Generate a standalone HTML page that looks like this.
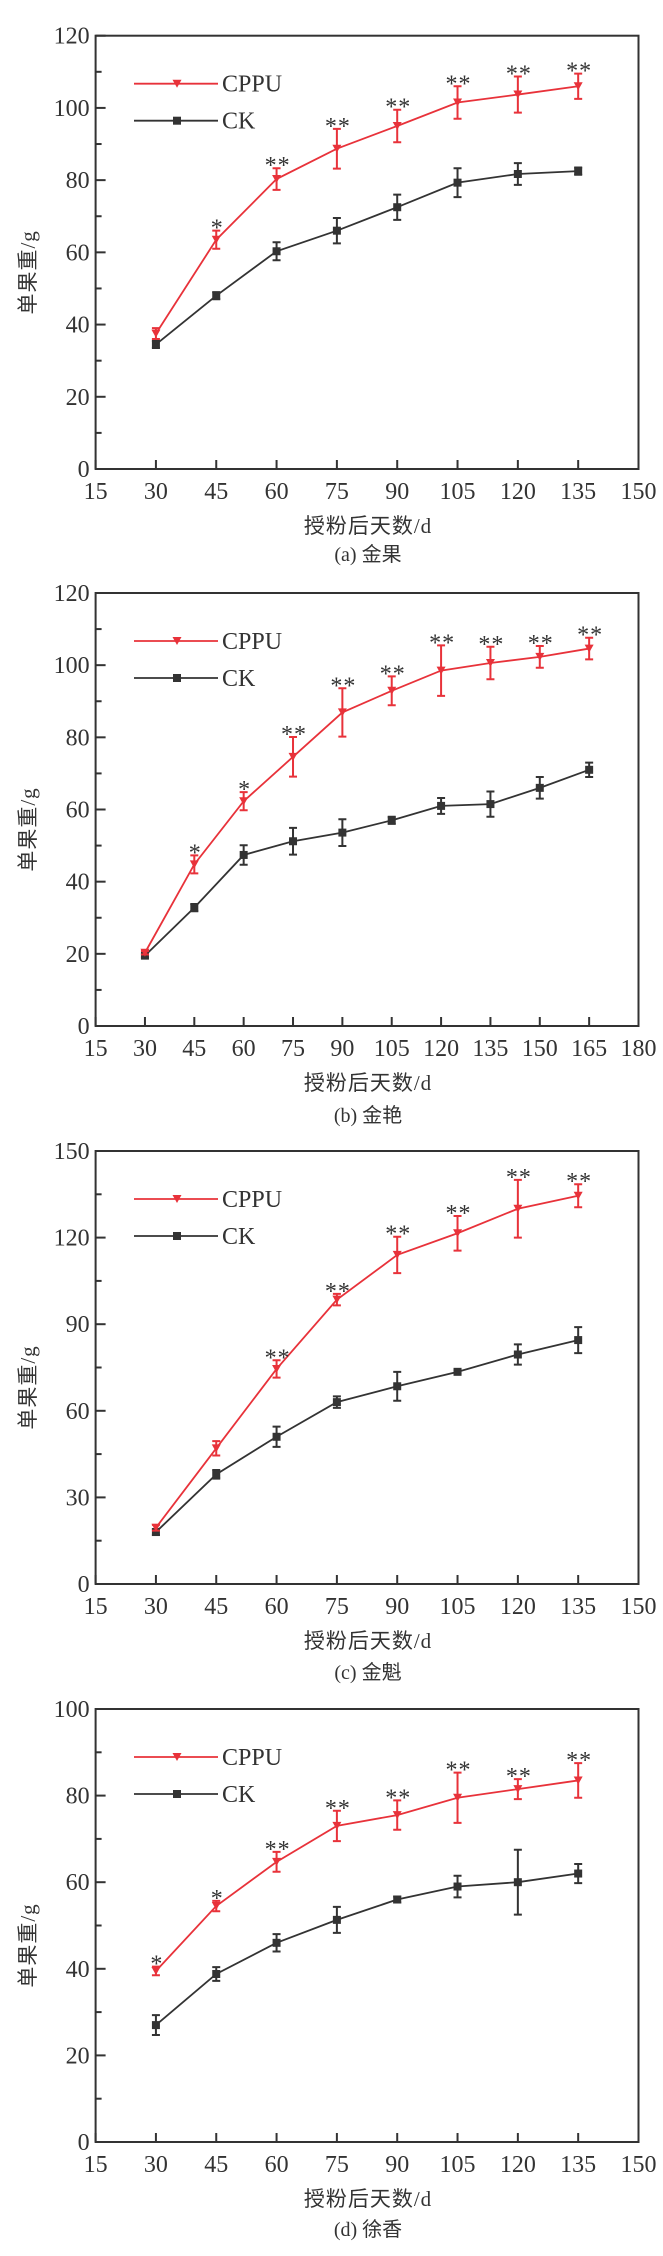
<!DOCTYPE html>
<html><head><meta charset="utf-8"><style>
body{margin:0;background:#fff}
svg{display:block}
text{font-family:"Liberation Serif","Noto Serif CJK SC",serif;fill:#333}
.cj{font-family:"Liberation Serif","Noto Sans CJK SC",sans-serif}
</style></head><body>
<svg id="s" width="663" height="2256" viewBox="0 0 663 2256" xmlns="http://www.w3.org/2000/svg"></svg>
<script>
const charts=[
{top:35.7,bot:469,ymax:120,ystep:20,xmax:150,cap:"(a) 金果",capY:553,
 c:[[30,37.5,1.5],[45,63.5,2.5],[60,80.3,3],[75,88.7,5.5],[90,95,4.5],[105,101.5,4.5],[120,103.7,5],[135,106,3.5]],
 k:[[30,34.5,1],[45,48,1],[60,60.3,2.5],[75,66,3.5],[90,72.5,3.5],[105,79.3,4],[120,81.7,3],[135,82.5,1]],
 st:["","*","**","**","**","**","**","**"]},
{top:593,bot:1026,ymax:120,ystep:20,xmax:180,cap:"(b) 金艳",capY:1114,
 c:[[30,20.3,0.5],[45,44.8,2.5],[60,62.3,2.5],[75,74.6,5.5],[90,86.9,6.7],[105,92.9,4],[120,98.5,7],[135,100.6,4.5],[150,102.3,3],[165,104.6,3]],
 k:[[30,19.5,0.5],[45,32.8,1],[60,47.4,2.7],[75,51.2,3.7],[90,53.6,3.7],[105,57,1],[120,61,2.2],[135,61.5,3.5],[150,66,3],[165,71,2]],
 st:["","*","*","**","**","**","**","**","**","**"]},
{top:1151,bot:1584,ymax:150,ystep:30,xmax:150,cap:"(c) 金魁",capY:1671,
 c:[[30,19.5,1],[45,47,2.5],[60,74.5,3],[75,98.5,2],[90,114,6.3],[105,121.5,6],[120,130,10],[135,134.5,4]],
 k:[[30,18,1],[45,38,1.5],[60,51,3.5],[75,63,2],[90,68.5,5],[105,73.5,0.5],[120,79.5,3.5],[135,84.5,4.5]],
 st:["","","**","**","**","**","**","**"]},
{top:1709,bot:2142,ymax:100,ystep:20,xmax:150,cap:"(d) 徐香",capY:2228,
 c:[[30,39.5,1],[45,54.5,1.2],[60,64.7,2.3],[75,73,3.5],[90,75.5,3.4],[105,79.5,5.8],[120,81.5,2.3],[135,83.5,4]],
 k:[[30,27,2.3],[45,38.8,1.6],[60,46,2],[75,51.3,3],[90,56,0.7],[105,59,2.5],[120,60,7.5],[135,62,2.2]],
 st:["*","*","**","**","**","**","**","**"]}
];
const L=95.6,R=638.5,RED="#e8323a",DK="#333";
let h="";
for(const ch of charts){
 const X=v=>L+(v-15)/(ch.xmax-15)*(R-L);
 const Y=v=>ch.bot-v/ch.ymax*(ch.bot-ch.top);
 h+=`<rect x="${L}" y="${ch.top}" width="${R-L}" height="${ch.bot-ch.top}" fill="none" stroke="${DK}" stroke-width="2"/>`;
 for(let v=0;v<=ch.ymax;v+=ch.ystep/2){
  const y=Y(v),maj=(v%ch.ystep)==0;
  h+=`<line x1="${L}" x2="${L+(maj?10:6)}" y1="${y}" y2="${y}" stroke="${DK}" stroke-width="2"/>`;
  if(maj)h+=`<text x="${L-6}" y="${y+8}" font-size="24" text-anchor="end">${v}</text>`;
 }
 for(let v=15;v<=ch.xmax;v+=15){
  const x=X(v);
  h+=`<line x1="${x}" x2="${x}" y1="${ch.bot}" y2="${ch.bot-9}" stroke="${DK}" stroke-width="2"/>`;
  h+=`<text x="${x}" y="${ch.bot+30}" font-size="24" text-anchor="middle">${v}</text>`;
 }
 h+=`<text class="cj" x="368" y="${ch.bot+64}" font-size="21" text-anchor="middle" letter-spacing="1">授粉后天数/d</text>`;
 h+=`<text class="cj" x="368" y="${ch.capY+8}" font-size="20" text-anchor="middle">${ch.cap}</text>`;
 const my=(ch.top+ch.bot)/2+20;
 h+=`<text class="cj" transform="translate(35,${my}) rotate(-90)" font-size="21" text-anchor="middle" letter-spacing="1">单果重/g</text>`;
 for(const [d,col,tri] of [[ch.k,DK,false],[ch.c,RED,true]]){
  h+=`<polyline fill="none" stroke="${col}" stroke-width="1.8" points="${d.map(p=>X(p[0])+","+Y(p[1])).join(" ")}"/>`;
  for(const p of d){
   const x=X(p[0]),y=Y(p[1]),y1=Y(p[1]+p[2]),y2=Y(p[1]-p[2]);
   h+=`<path d="M${x} ${y1}V${y2}M${x-4} ${y1}H${x+4}M${x-4} ${y2}H${x+4}" stroke="${col}" stroke-width="2"/>`;
   if(tri)h+=`<path d="M${x-4.5} ${y-4}H${x+4.5}L${x} ${y+4}Z" fill="${col}"/>`;
   else h+=`<rect x="${x-4}" y="${y-4}" width="8" height="8" fill="${col}"/>`;
  }
 }
 ch.c.forEach((p,i)=>{ if(ch.st[i]){const x=X(p[0]),y=Y(p[1]+p[2]);
  h+=`<text x="${x+1}" y="${y+5}" font-size="24" text-anchor="middle" font-family="Liberation Sans" letter-spacing="1">${ch.st[i]}</text>`;}});
 const ly=ch.top+48;
 h+=`<line x1="134" x2="218" y1="${ly}" y2="${ly}" stroke="${RED}" stroke-width="1.8"/><path d="M172.5 ${ly-4}H181.5L177 ${ly+4}Z" fill="${RED}"/>`;
 h+=`<text x="222" y="${ly+8}" font-size="24">CPPU</text>`;
 h+=`<line x1="134" x2="218" y1="${ly+37}" y2="${ly+37}" stroke="${DK}" stroke-width="1.8"/><rect x="173" y="${ly+33}" width="8" height="8" fill="${DK}"/>`;
 h+=`<text x="222" y="${ly+45}" font-size="24">CK</text>`;
}
document.getElementById("s").innerHTML=h;
</script>
</body></html>
